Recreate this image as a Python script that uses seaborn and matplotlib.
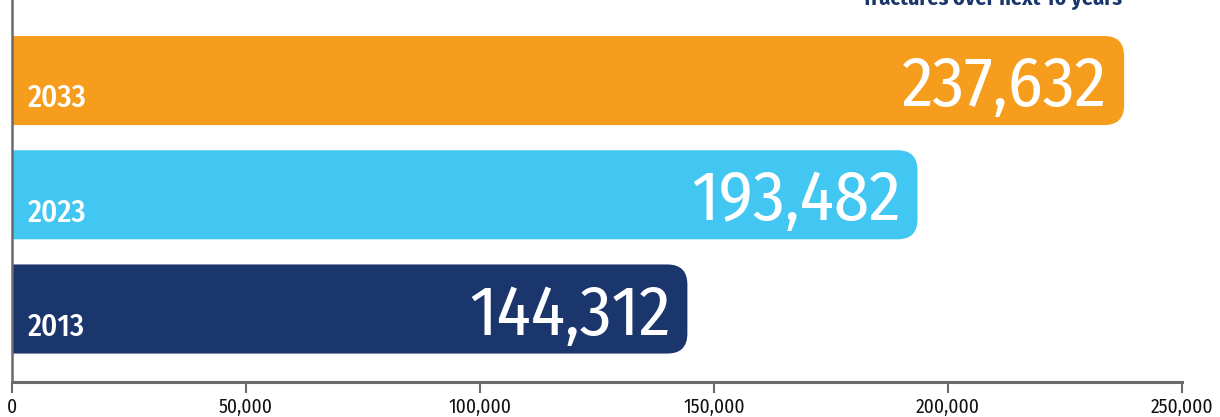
import matplotlib
matplotlib.use("Agg")
import matplotlib.pyplot as plt
import pandas as pd
import seaborn as sns
from matplotlib.patches import FancyBboxPatch
from matplotlib.ticker import FuncFormatter

years = ["2033", "2023", "2013"]
fractures = [237632, 193482, 144312]
bar_colors = ["#F79D1E", "#42C7F3", "#1B366C"]
x_ticks = [0, 50000, 100000, 150000, 200000, 250000]
subtitle = "fractures over next 10 years"

sns.set_style("white")
FONT = ["Fira Sans Condensed", "Carlito", "DejaVu Sans"]
plt.rcParams["font.family"] = FONT

df = pd.DataFrame({"year": years, "fractures": fractures})

W, H = 1220, 417
fig = plt.figure(figsize=(W / 100, H / 100), dpi=100)
ax = fig.add_axes([12 / W, 35 / H, 1170 / W, 382 / H])

sns.barplot(
    data=df, x="fractures", y="year", hue="year", palette=dict(zip(years, bar_colors)),
    orient="h", width=0.78, legend=False, ax=ax,
)

ax.set_xlim(0, 250000)
ax.set_ylim(2.639, -0.705)

# px -> data conversions
px_x = 250000 / 1170
px_y = (2.639 + 0.705) / 382
r = 20 * px_x
aspect = px_y / px_x

for p, col in zip(list(ax.patches), bar_colors):
    x0, y0, w, h = p.get_x(), p.get_y(), p.get_width(), p.get_height()
    p.remove()
    ax.add_patch(FancyBboxPatch(
        (x0 - r, y0), w + r, h, boxstyle=f"round,pad=0,rounding_size={r}",
        mutation_aspect=aspect, fc=col, ec="none", zorder=2,
    ))

for i, (yr, val) in enumerate(zip(years, fractures)):
    ax.text(16 * px_x, i + 0.235, yr, color="white", fontsize=22, fontweight=500,
            ha="left", va="baseline", zorder=3)
    ax.text(val - 17 * px_x, i + 0.225, f"{val:,}", color="white", fontsize=51,
            ha="right", va="baseline", zorder=3)

ax.set_xticks(x_ticks)
ax.xaxis.set_major_formatter(FuncFormatter(lambda v, _: f"{int(v):,}"))
ax.set_yticks([])
ax.set_xlabel("")
ax.set_ylabel("")
ax.tick_params(axis="x", direction="out", length=8, width=1.5, color="#6a6a6a",
               labelsize=14, labelcolor="#111111", pad=3, bottom=True)
sns.despine(ax=ax, top=True, right=True)
for side in ("left", "bottom"):
    ax.spines[side].set_color("#6a6a6a")
ax.spines["left"].set_linewidth(1.8)
ax.spines["bottom"].set_linewidth(2.2)

fig.text(1122 / W, 1 - 5 / H, subtitle, ha="right", va="baseline", fontsize=16,
         fontweight="bold", color="#1B366C")

fig.savefig("out.png", dpi=100)
